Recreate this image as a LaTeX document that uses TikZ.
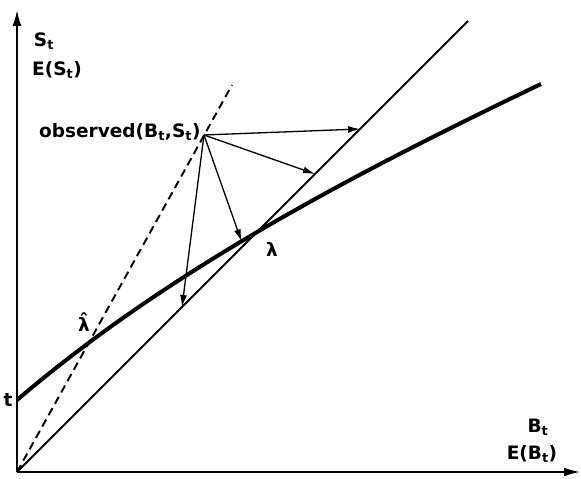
\documentclass[tikz,border=0pt]{standalone}
\usepackage{fontspec}
\setmainfont{DejaVu Sans}
\usetikzlibrary{arrows.meta,positioning}

\begin{document}
\begin{tikzpicture}[x=1pt, y=1pt, font=\fontsize{18.5}{21}\selectfont\bfseries,
    axis/.style={line width=1.9pt, -{Latex[length=16pt, width=9pt]}},
    thinline/.style={line width=1.9pt},
    thickline/.style={line width=4pt},
    dashline/.style={line width=1.9pt, dash pattern=on 8pt off 5pt},
    proj/.style={line width=1.3pt, -{Latex[length=12pt, width=7pt]}}]
    \useasboundingbox (-17,-7) rectangle (564,472);
    % Points
    \coordinate (O) at (0,0);
    \coordinate (Ytop) at (0,462);
    \coordinate (Xend) at (563,0);
    \coordinate (T) at (0,72);
    \coordinate (Tend) at (524,388);
    \coordinate (Lend) at (451,451);
    \coordinate (Dend) at (215,387);
    \coordinate (P) at (187,337);
    \coordinate (A1) at (343,343);
    \coordinate (A2) at (298,298);
    \coordinate (A4) at (165,165);
    % Axes
    \draw[axis] (O) -- (Ytop);
    \draw[axis] (O) -- (Xend);
    % Lines
    \draw[thinline] (O) -- (Lend);
    \draw[dashline] (O) -- (Dend);
    \draw[thickline] (T) .. controls (150,200) and (330,295) .. (Tend)
        coordinate[pos=0.46] (A3);
    % Arrows
    \draw[proj] (P) -- (A1);
    \draw[proj] (P) -- (A2);
    \draw[proj] (P) -- (A3);
    \draw[proj] (P) -- (A4);
    % Labels
    \node (sLabel) at (27,431) {S\textsubscript{t}};
    \node (esLabel) at (40,402) {E(S\textsubscript{t})};
    \node[left=0pt of P, yshift=3pt] (obsLabel) {observed(B\textsubscript{t},S\textsubscript{t})};
    \node (hatLambda) at (67,150) {\accent"02C6 λ};
    \node (lambda) at (255,223) {λ};
    \node[left=1pt of T] (tLabel) {t};
    \node (bLabel) at (521,45) {B\textsubscript{t}};
    \node (ebLabel) at (515,18) {E(B\textsubscript{t})};
\end{tikzpicture}
\end{document}
